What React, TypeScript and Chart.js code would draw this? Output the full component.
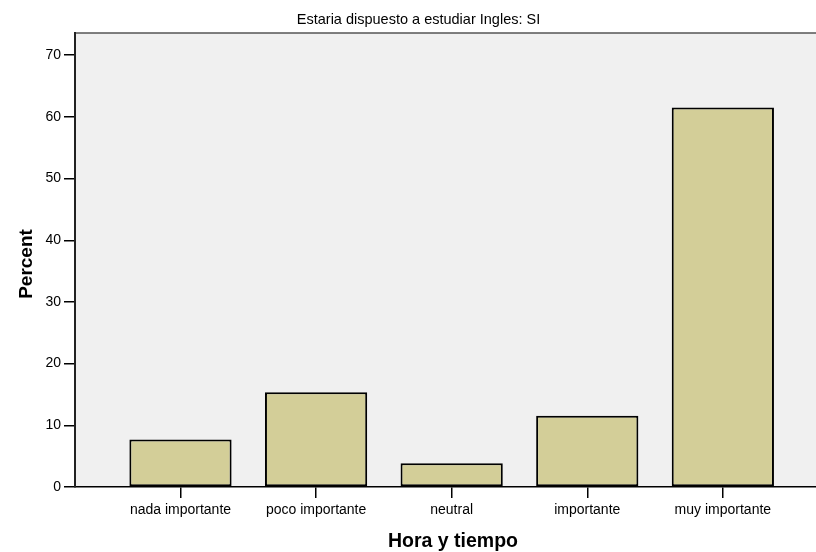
import React, { useEffect, useRef } from "react";
import { Chart, registerables } from "chart.js";

Chart.register(...registerables);

const categories = ["nada importante", "poco importante", "neutral", "importante", "muy importante"];
const percentValues = [7.69, 15.38, 3.85, 11.54, 61.54];
const yTickValues = [0, 10, 20, 30, 40, 50, 60, 70];
const chartTitle = "Estaria dispuesto a estudiar Ingles: SI";
const xTitle = "Hora y tiempo";
const yTitle = "Percent";

const FONT = "Arial, 'Liberation Sans', Helvetica, sans-serif";

export default function App() {
  const ref = useRef<HTMLCanvasElement | null>(null);

  useEffect(() => {
    document.body.style.margin = "0";
    const canvas = ref.current;
    if (!canvas) return;

    const bgPlugin = {
      id: "plotBg",
      beforeDraw(chart: any) {
        const { ctx, chartArea } = chart;
        if (!chartArea) return;
        ctx.save();
        ctx.fillStyle = "#f0f0f0";
        ctx.fillRect(chartArea.left, chartArea.top, chartArea.right - chartArea.left, chartArea.bottom - chartArea.top);
        ctx.strokeStyle = "#555555";
        ctx.lineWidth = 1.5;
        ctx.beginPath();
        ctx.moveTo(chartArea.left, chartArea.top);
        ctx.lineTo(chartArea.right, chartArea.top);
        ctx.stroke();
        ctx.restore();
      },
    };

    const titlesPlugin = {
      id: "titles",
      afterDraw(chart: any) {
        const { ctx } = chart;
        ctx.save();
        ctx.fillStyle = "#000000";
        ctx.textAlign = "center";
        ctx.textBaseline = "alphabetic";
        ctx.font = `normal 14.5px ${FONT}`;
        ctx.fillText(chartTitle, 418.5, 24);
        ctx.font = `bold 19.5px ${FONT}`;
        ctx.fillText(xTitle, 453, 547);
        ctx.translate(32, 264);
        ctx.rotate(-Math.PI / 2);
        ctx.font = `bold 19px ${FONT}`;
        ctx.fillText(yTitle, 0, 0);
        ctx.restore();
      },
    };

    const chart = new Chart(canvas, {
      type: "bar",
      data: {
        datasets: [
          {
            data: percentValues.map((v, i) => ({ x: i, y: v })),
            backgroundColor: "#d3ce98",
            borderColor: "#000000",
            borderWidth: 2,
            borderSkipped: false,
            barPercentage: 0.754,
            categoryPercentage: 1,
          },
        ],
      },
      options: {
        animation: false,
        responsive: false,
        maintainAspectRatio: false,
        layout: { padding: { top: 33, left: 0, right: 0, bottom: 0 } },
        plugins: {
          legend: { display: false },
          tooltip: { enabled: false },
          title: { display: false },
        },
        scales: {
          x: {
            type: "linear",
            offset: false,
            min: -0.778,
            max: 4.687,
            afterBuildTicks: (scale: any) => {
              scale.ticks = categories.map((_, i) => ({ value: i }));
            },
            afterFit: (scale: any) => {
              scale.height = 65;
            },
            ticks: {
              color: "#000000",
              font: { family: FONT, size: 14 },
              padding: 4,
              maxRotation: 0,
              autoSkip: false,
              callback: (v: any) => categories[Math.round(Number(v))] ?? "",
            },
            grid: {
              offset: false,
              drawOnChartArea: false,
              drawTicks: true,
              tickLength: 11,
              color: "#000000",
              lineWidth: 1.5,
            },
            border: { display: true, color: "#000000", width: 1.5 },
            title: { display: false },
          },
          y: {
            type: "linear",
            min: 0,
            max: 73.6,
            afterBuildTicks: (scale: any) => {
              scale.ticks = yTickValues.map((v) => ({ value: v }));
            },
            afterFit: (scale: any) => {
              scale.width = 75;
            },
            ticks: {
              color: "#000000",
              font: { family: FONT, size: 14 },
              padding: 3,
              callback: (v: any) => String(v),
            },
            grid: {
              drawOnChartArea: false,
              drawTicks: true,
              tickLength: 11,
              color: "#000000",
              lineWidth: 1.5,
            },
            border: { display: true, color: "#222222", width: 2 },
            title: { display: false },
          },
        },
      },
      plugins: [bgPlugin, titlesPlugin],
    });

    return () => {
      chart.destroy();
    };
  }, []);

  return (
    <div style={{ width: 816, height: 552, position: "relative" }}>
      <canvas ref={ref} width={816} height={552} style={{ display: "block" }} />
    </div>
  );
}
